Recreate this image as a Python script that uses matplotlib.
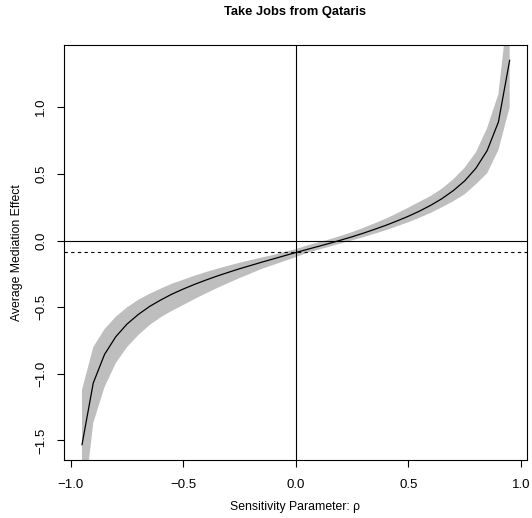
import matplotlib
matplotlib.use("Agg")
import matplotlib.pyplot as plt
import numpy as np

plt.rcParams['font.family'] = ['Liberation Sans', 'DejaVu Sans']

rho = [-0.95, -0.90, -0.85, -0.80, -0.75, -0.70, -0.65, -0.60, -0.55, -0.50,
       -0.45, -0.40, -0.35, -0.30, -0.25, -0.20, -0.15, -0.10, -0.05, 0.00,
       0.05, 0.10, 0.15, 0.20, 0.25, 0.30, 0.35, 0.40, 0.45, 0.50,
       0.55, 0.60, 0.65, 0.70, 0.75, 0.80, 0.85, 0.90, 0.95]
acme = [-1.532, -1.069, -0.855, -0.722, -0.627, -0.555, -0.495, -0.446, -0.402, -0.364,
        -0.329, -0.297, -0.267, -0.239, -0.212, -0.187, -0.162, -0.138, -0.114, -0.090,
        -0.067, -0.044, -0.021, 0.003, 0.028, 0.055, 0.084, 0.114, 0.147, 0.182,
        0.221, 0.265, 0.315, 0.375, 0.447, 0.542, 0.675, 0.889, 1.352]
ci_low = [-2.10, -1.37, -1.10, -0.92, -0.80, -0.71, -0.635, -0.576, -0.527, -0.484,
          -0.439, -0.397, -0.357, -0.319, -0.282, -0.247, -0.212, -0.183, -0.154, -0.125,
          -0.092, -0.069, -0.046, -0.022, 0.001, 0.025, 0.051, 0.077, 0.107, 0.137,
          0.171, 0.208, 0.250, 0.295, 0.347, 0.422, 0.505, 0.679, 1.00]
ci_high = [-1.12, -0.80, -0.665, -0.572, -0.502, -0.445, -0.400, -0.361, -0.324, -0.294,
           -0.264, -0.237, -0.212, -0.189, -0.167, -0.147, -0.127, -0.108, -0.086, -0.065,
           -0.037, -0.014, 0.009, 0.035, 0.063, 0.095, 0.129, 0.164, 0.204, 0.247,
           0.291, 0.335, 0.390, 0.460, 0.547, 0.662, 0.845, 1.099, 1.85]
acme_at_zero = -0.09

x_ticks = [-1.0, -0.5, 0.0, 0.5, 1.0]
y_ticks = [-1.5, -1.0, -0.5, 0.0, 0.5, 1.0]

fig = plt.figure(figsize=(5.32, 5.18), dpi=100)
ax = fig.add_axes([64/532, 1 - 460/518, (527-64)/532, (460-45)/518])

ax.fill_between(rho, ci_low, ci_high, color='#BEBEBE', linewidth=0)
ax.plot(rho, acme, color='black', linewidth=0.9)
ax.axhline(0, color='black', linewidth=0.8)
ax.axvline(0, color='black', linewidth=0.8)
ax.axhline(acme_at_zero, color='black', linewidth=0.8, linestyle=(0, (3, 3)))

ax.set_xlim(-1.03, 1.027)
ax.set_ylim(-1.647, 1.467)
ax.set_xticks(x_ticks)
ax.set_xticklabels([f"{v:.1f}".replace('-', '\u2212') for v in x_ticks])
ax.set_yticks(y_ticks)
ax.set_yticklabels([f"{v:.1f}".replace('-', '\u2212') for v in y_ticks],
                   rotation=90, va='center')
ax.tick_params(direction='out', length=5, width=0.8, labelsize=9.5, pad=7)
ax.tick_params(axis='x', pad=9)
for s in ax.spines.values():
    s.set_linewidth(0.8)

ax.set_xlabel("Sensitivity Parameter: \u03c1", fontsize=8.8, labelpad=7)
ax.set_ylabel("Average Mediation Effect", fontsize=8.8, labelpad=9)
fig.text((64+527)/2/532, 1 - 12/518, "Take Jobs from Qataris", ha='center', va='center',
         fontsize=9.3, fontweight='bold')

fig.savefig("out.png", dpi=100)
